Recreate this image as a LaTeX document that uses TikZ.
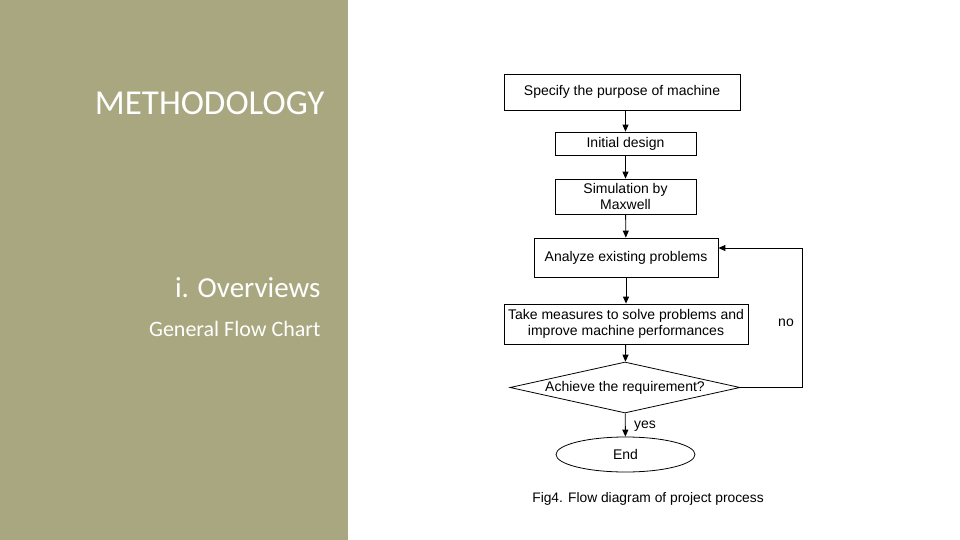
\documentclass[tikz,border=0pt]{standalone}
\usepackage{fontspec}
\setmainfont{Liberation Sans}
\newfontfamily\calfont{Carlito}
\usetikzlibrary{shapes.geometric,arrows.meta}
\definecolor{panel}{HTML}{A8A77F}
\begin{document}
\begin{tikzpicture}[x=1pt,y=-1pt,
  bx/.style={draw,line width=0.8pt,minimum height=#1,inner sep=1pt,align=center,font=\fontsize{14}{16}\selectfont},
  bx/.default=23,
  ar/.style={-{Triangle[length=7pt,width=6pt]},line width=0.9pt}]
\useasboundingbox (0,0) rectangle (960,540);
\fill[panel] (0,0) rectangle (348,540);
\node[anchor=east,text=white,font=\calfont\fontsize{35}{38}\selectfont] (t1) at (328,103) {METHODOLOGY};
\node[anchor=east,text=white,font=\calfont\fontsize{29}{32}\selectfont] (t2) at (324,288) {i. Overviews};
\node[anchor=east,text=white,font=\calfont\fontsize{22}{26}\selectfont] (t3) at (324,329) {General Flow Chart};

\node[bx=36,minimum width=236] (b1) at (622,92) {Specify the purpose of machine};
\node[bx=23,minimum width=141] (b2) at (625.5,143.5) {Initial design};
\node[bx=35,minimum width=141] (b3) at (625.5,196.5) {Simulation by\\Maxwell};
\node[bx=39,minimum width=184] (b4) at (626,257.5) {Analyze existing problems};
\node[bx=40,minimum width=244] (b5) at (626,324) {Take measures to solve problems and\\improve machine performances};
\node[draw,line width=0.8pt,diamond,aspect=4.5,minimum width=230,minimum height=51,inner sep=0pt,font=\fontsize{14}{16}\selectfont] (d) at (625,387.5) {Achieve the requirement?};
\node[draw,line width=0.8pt,ellipse,minimum width=139,minimum height=35,inner sep=0pt,font=\fontsize{14}{16}\selectfont] (e) at (625.5,454.5) {End};
\draw[ar] (b1.south -| b2.north) -- (b2);
\draw[ar] (b2) -- (b3);
\draw[ar] (b3) -- (b4);
\draw[ar] (b4) -- (b5);
\draw[ar] (b5) -- (d);
\draw[ar] (d) -- (e);
\coordinate (c1) at (802,387.5);
\coordinate (c2) at (802,248);
\draw[ar] (d.east) -- (c1) -- (c2) -- (b4.east |- c2);
\node[font=\fontsize{14}{16}\selectfont] (no) at (786,323) {no};
\node[font=\fontsize{14}{16}\selectfont] (yes) at (645,426) {yes};
\node[font=\fontsize{13.8}{16}\selectfont] (cap) at (648,499) {Fig4. Flow diagram of project process};
\end{tikzpicture}
\end{document}
